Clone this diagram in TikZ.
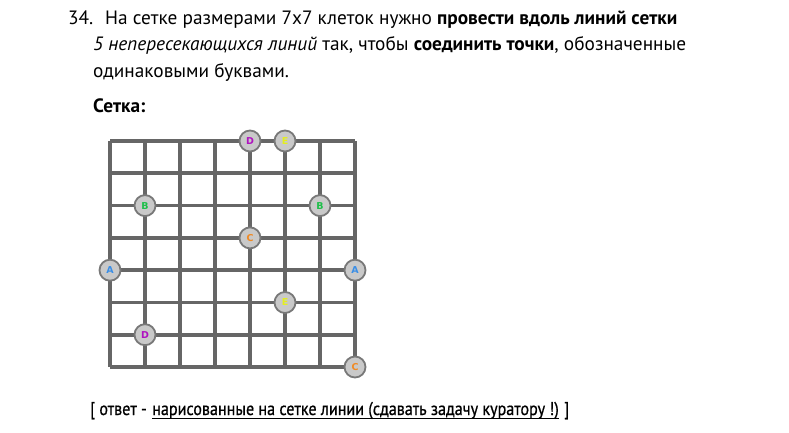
\documentclass[tikz,border=0pt]{standalone}
\usepackage{fontspec}
\setmainfont{PT Sans}
\newfontfamily\btmfont[FakeStretch=0.87,FakeBold=0.7]{PT Sans}
\newfontfamily\lblfont{DejaVu Sans}
\definecolor{gridc}{HTML}{666666}
\definecolor{ptfill}{HTML}{C9C9C9}
\definecolor{ptdraw}{HTML}{787878}
\definecolor{cA}{HTML}{3A8EE6}
\definecolor{cB}{HTML}{1FBF4A}
\definecolor{cC}{HTML}{F08A24}
\definecolor{cD}{HTML}{B014C0}
\definecolor{cE}{HTML}{E4EE1E}
\tikzset{
  gridline/.style={draw=gridc, line width=3.6pt},
  pt/.style={circle, fill=ptfill, draw=ptdraw, line width=1.8pt, minimum size=21pt, inner sep=0pt,
    font=\lblfont\bfseries\fontsize{9.5}{9.5}\selectfont},
  txt/.style={anchor=base west, inner sep=0pt, font=\fontsize{19.3}{22}\selectfont},
  btm/.style={anchor=base west, inner sep=0pt, font=\btmfont\fontsize{18.5}{22}\selectfont}
}
\begin{document}
\begin{tikzpicture}[x=1pt,y=-1pt]
\useasboundingbox[fill=white] (0,0) rectangle (789,433);
% text
\node[txt] (num) at (68,25) {34.};
\node[txt] (l1) at (105,25) {На сетке размерами 7x7 клеток нужно \textbf{провести вдоль линий сетки}};
\node[txt] (l2) at (93,51) {\textit{5 непересекающихся линий} так, чтобы \textbf{соединить точки}, обозначенные};
\node[txt] (l3) at (93,78) {одинаковыми буквами.};
\node[txt] (ttl) at (93,113) {\textbf{Сетка:}};
\node[btm] (ans1) at (90,415) {[ ответ -};
\node[btm] (ans2) at ([xshift=5pt]ans1.base east) {нарисованные на сетке линии (сдавать задачу куратору !)};
\node[btm] (ans3) at ([xshift=5pt]ans2.base east) {]};
\draw[line width=1.3pt] ([yshift=-3.5pt]ans2.base west) -- ([yshift=-3.5pt]ans2.base east);
% grid
\foreach \i in {0,...,7} {
  \coordinate (v\i t) at (110+35*\i,141);
  \coordinate (v\i b) at (110+35*\i,367);
  \coordinate (h\i l) at (110,141+32.29*\i);
  \coordinate (h\i r) at (355,141+32.29*\i);
  \draw[gridline] (v\i t) -- (v\i b);
  \draw[gridline] (h\i l) -- (h\i r);
}
% points
\node[pt, text=cD] (D1) at (250,141) {D};
\node[pt, text=cE] (E1) at (285,141) {E};
\node[pt, text=cB] (B1) at (145,205.6) {B};
\node[pt, text=cB] (B2) at (320,205.6) {B};
\node[pt, text=cC] (C1) at (250,237.9) {C};
\node[pt, text=cA] (A1) at (110,270.2) {A};
\node[pt, text=cA] (A2) at (355,270.2) {A};
\node[pt, text=cE] (E2) at (285,302.5) {E};
\node[pt, text=cD] (D2) at (145,334.7) {D};
\node[pt, text=cC] (C2) at (355,367) {C};
\end{tikzpicture}
\end{document}
